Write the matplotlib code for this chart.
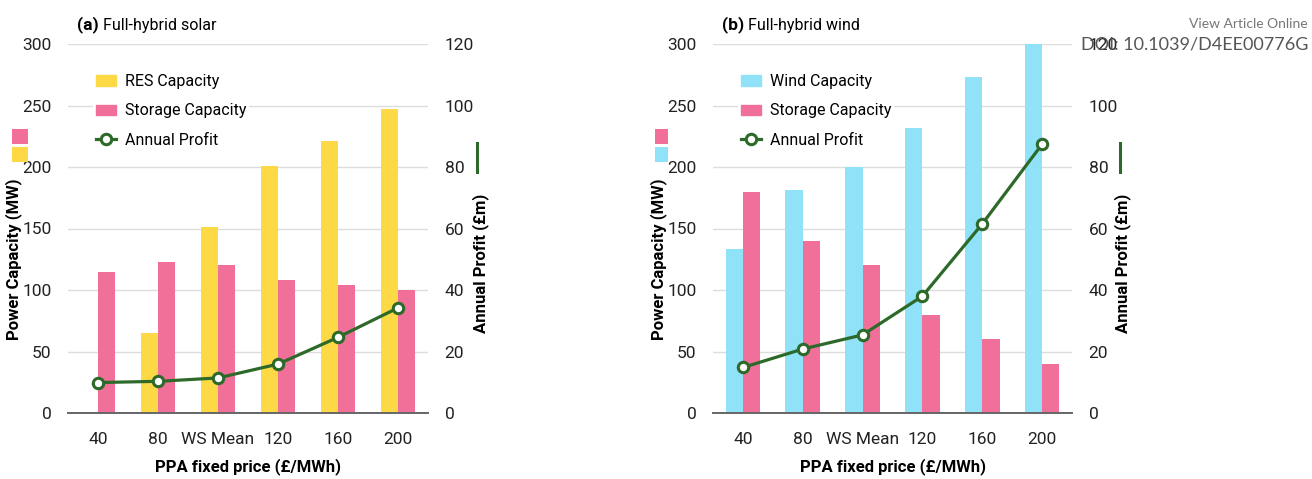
import numpy as np
import matplotlib
matplotlib.use("Agg")
import matplotlib.pyplot as plt
from matplotlib.patches import Patch, Rectangle
from matplotlib.lines import Line2D

plt.rcParams['font.family'] = ['Roboto', 'DejaVu Sans']

# data
categories = ['40', '80', 'WS Mean', '120', '160', '200']

solar_res = [0, 65, 151, 201, 221, 247]
solar_storage = [115, 123, 120, 108, 104, 100]
solar_profit = [9.9, 10.3, 11.4, 15.9, 24.6, 34.2]

wind_res = [133, 181, 200, 232, 273, 300]
wind_storage = [180, 140, 120, 80, 60, 40]
wind_profit = [14.8, 20.8, 25.4, 38.0, 61.5, 87.4]

YELLOW = '#FDD946'
PINK = '#F07099'
CYAN = '#8FE2F8'
GREEN = '#2D6A2A'
GRID = '#DDDDDD'
FS = 11.5

W, H = 1312, 479
fig = plt.figure(figsize=(W / 100, H / 100), dpi=100)


def px_rect(x0, y0, x1, y1, color):
    # rectangle given in figure pixels (top-left origin)
    fig.add_artist(Rectangle((x0 / W, 1 - y1 / H), (x1 - x0) / W, (y1 - y0) / H,
                             transform=fig.transFigure, color=color, lw=0))


def panel(left_px, right_px, res, storage, profit, res_color, res_label, tag, title,
          lab_l, lab_r):
    ax = fig.add_axes([left_px / W, 1 - 413 / H, (right_px - left_px) / W, 369 / H])
    x = np.arange(len(categories))
    width = 0.29
    ax.bar(x - width / 2, res, width, color=res_color, zorder=2)
    ax.bar(x + width / 2, storage, width, color=PINK, zorder=2)
    ax.set_xlim(-0.5, len(categories) - 0.5)
    ax.set_ylim(0, 300)
    ax.set_yticks(range(0, 301, 50))
    ax.set_xticks(x)
    ax.set_xticklabels(categories)
    ax.yaxis.grid(True, color=GRID, lw=1, zorder=0)
    ax.set_axisbelow(True)
    for s in ['top', 'right', 'left']:
        ax.spines[s].set_visible(False)
    ax.spines['bottom'].set_color('#666666')
    ax.spines['bottom'].set_linewidth(1.4)
    ax.tick_params(length=0, labelsize=FS + 1, colors='#222222')
    ax.tick_params(axis='x', pad=14)
    ax.tick_params(axis='y', pad=12)
    ax.set_xlabel('PPA fixed price (£/MWh)', fontsize=FS + 0.5, fontweight='bold',
                  labelpad=8)
    ax.set_ylabel('Power Capacity (MW)', fontsize=FS + 0.5, fontweight='bold')
    ax.yaxis.set_label_coords(lab_l, 0.417)

    ax2 = ax.twinx()
    ax2.plot(x, profit, color=GREEN, lw=2.3, marker='o', ms=7.5,
             mfc='white', mec=GREEN, mew=2.2, zorder=3)
    ax2.set_ylim(0, 120)
    ax2.set_yticks(range(0, 121, 20))
    for s in ax2.spines.values():
        s.set_visible(False)
    ax2.tick_params(length=0, labelsize=FS + 1, colors='#222222', pad=12)
    ax2.set_ylabel('Annual Profit (£m)', fontsize=FS + 0.5, fontweight='bold')
    ax2.yaxis.set_label_coords(lab_r, 0.406)

    handles = [Patch(color=res_color), Patch(color=PINK),
               Line2D([], [], color=GREEN, lw=2.3, marker='o', ms=7.5,
                      mfc='white', mec=GREEN, mew=2.2)]
    ax2.legend(handles, [res_label, 'Storage Capacity', 'Annual Profit'],
               loc='upper left', bbox_to_anchor=(0.07, 0.925), frameon=True,
               facecolor='white', edgecolor='none', framealpha=1, fontsize=FS,
               handlelength=1.3, handleheight=0.65, handletextpad=0.55,
               labelspacing=0.9, borderpad=0.15, borderaxespad=0, fancybox=False)

    t = ax.text(0.025, 1.03, tag, transform=ax.transAxes, fontsize=FS + 1,
                fontweight='bold', va='bottom', ha='left')
    ax.annotate(' ' + title, xy=(1, 0), xycoords=t, va='bottom', ha='left',
                fontsize=FS)
    return ax


panel(68, 428, solar_res, solar_storage, solar_profit, YELLOW, 'RES Capacity',
      '(a)', 'Full-hybrid solar', -0.128, 1.122)
panel(713, 1072, wind_res, wind_storage, wind_profit, CYAN, 'Wind Capacity',
      '(b)', 'Full-hybrid wind', -0.128, 1.117)

# small colour keys beside the axis titles
px_rect(12, 129, 28, 144, PINK)
px_rect(12, 147, 28, 162, YELLOW)
px_rect(476, 142, 479, 174, GREEN)
px_rect(655, 129, 668, 144, PINK)
px_rect(655, 147, 668, 162, CYAN)
px_rect(1119, 142, 1122, 174, GREEN)

fig.text(1308 / W, 1 - 24 / H, 'View Article Online', ha='right', va='center',
         fontsize=10, color='#777777', family=['Lato', 'DejaVu Sans'])
fig.text(1308 / W, 1 - 44 / H, 'DOI: 10.1039/D4EE00776G', ha='right', va='center',
         fontsize=13, color='#555555', family=['Lato', 'DejaVu Sans'])

fig.savefig('out.png', dpi=100)
